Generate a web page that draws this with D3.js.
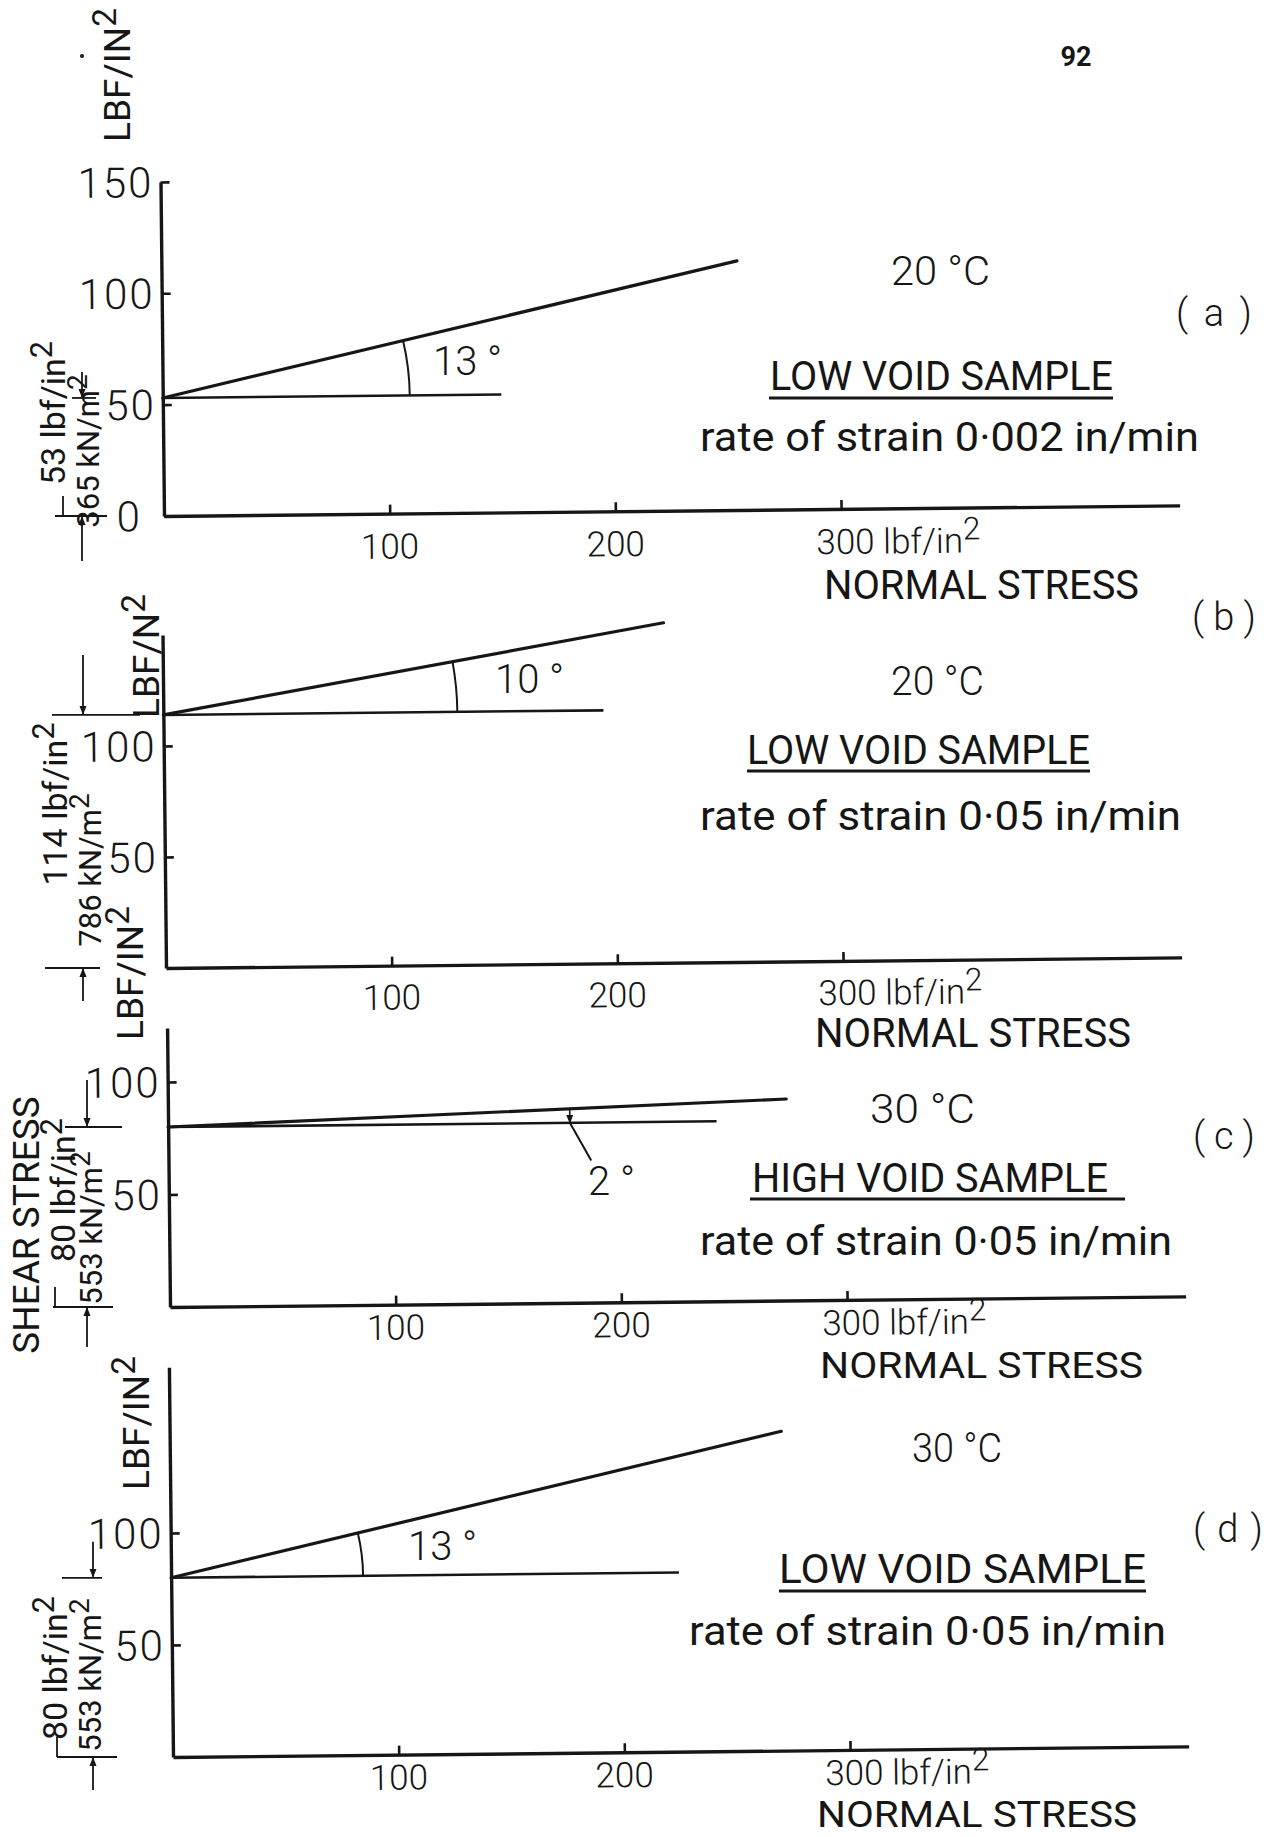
<!DOCTYPE html>
<html>
<head>
<meta charset="utf-8">
<script src="https://cdn.jsdelivr.net/npm/d3@7"></script>
<style>
  html, body { margin: 0; padding: 0; background: #fff; }
  svg text { font-family: Roboto, "DejaVu Sans", sans-serif; font-weight: 400; fill: #161616; }
</style>
</head>
<body>
<svg id="chart" width="1268" height="1837"></svg>
<script>
// Shear stress against normal stress (lbf/in²): straight failure envelopes
// for four shear-box tests, each with its cohesion intercept and friction angle.
const panelIds = ["( a )", "( b )", "( c )", "( d )"];
const temperatures = ["20 °C", "20 °C", "30 °C", "30 °C"];
const samples = ["LOW VOID SAMPLE", "LOW VOID SAMPLE", "HIGH VOID SAMPLE", "LOW  VOID SAMPLE"];
const strainRates = ["0·002", "0·05", "0·05", "0·05"];
const cohesionLbf = [53, 114, 80, 80];          // lbf/in²
const cohesionKN = [365, 786, 553, 553];        // kN/m²
const frictionAngleDeg = [13, 10, 2, 13];
const envelopeEnd = [255, 222, 274, 271];       // normal stress where each envelope stops
const referenceEnd = [150, 195, 243, 225];      // normal stress where the horizontal stops
const xTickValues = [100, 200, 300];
const xTickLabels = ["100", "200", "300"];
const yTickValues = [[0, 50, 100, 150], [50, 100], [50, 100], [50, 100]];
const yTickLabels = [["0", "50", "100", "150"], ["50", "100"], ["50", "100"], ["50", "100"]];
const yAxisTop = [150, 150, 124, 174];
const xAxisEnd = 450;
const unitTexts = ["LBF/IN", "LBF/N", "LBF/IN", "LBF/IN"];
const pageNumber = "92";

// page placement of each panel
const tilt = -0.6;
const xPx = 2.257;
const layout = [
  { x0: 164, y0: 516, yPx: 2.227, arcR: 247, angleLbl: [433, 375], xLblOff: 45,
    temp: [891, 285, 99], id: [1176, 326, 76], sample: [770, 390, 343], ul: [769, 1113, 398],
    rate: [700, 451, 499], normal: [824, 599, 315, 40],
    unit: [117, 75, 37], lblC: [53, 413], lblK: [88, 451],
    dimX: 82, topBar: [72, 96], botBar: [55, 107], topLen: 26, botLen: 45, bar: 63 },
  { x0: 166, y0: 968, yPx: 2.22, arcR: 294, angleLbl: [495, 693], xLblOff: 44,
    temp: [891, 695, 93], id: [1192, 630, 64], sample: [747, 764, 343], ul: [747, 1090, 771],
    rate: [700, 830, 481], normal: [815, 1047, 316, 40],
    unit: [146, 656, 37], lblC: [55, 804], lblK: [90, 870],
    dimX: 83, topBar: [52, 140], botBar: [45, 100], topLen: 60, botLen: 33, bar: null },
  { x0: 170, y0: 1307, yPx: 2.25, arcR: null, angleLbl: [588, 1195], xLblOff: 35,
    temp: [870, 1123, 105], id: [1193, 1149, 62], sample: [752, 1192, 356], ul: [750, 1125, 1199],
    rate: [700, 1255, 472], normal: [820, 1378, 323, 37],
    unit: [130, 973, 37], lblC: [63, 1190], lblK: [91, 1228],
    dimX: 87, topBar: [65, 122], botBar: [53, 113], topLen: 47, botLen: 40, bar: 55 },
  { x0: 173, y0: 1757, yPx: 2.24, arcR: 192, angleLbl: [408, 1560], xLblOff: 35,
    temp: [912, 1462, 90], id: [1193, 1542, 70], sample: [779, 1583, 367], ul: [779, 1146, 1591],
    rate: [689, 1645, 477], normal: [817, 1827, 320, 36],
    unit: [136, 1423, 37], lblC: [55, 1668], lblK: [90, 1675],
    dimX: 93, topBar: [62, 102], botBar: [57, 117], topLen: 36, botLen: 33, bar: 57 }
];

const ink = "#161616";
const svg = d3.select("#chart");

svg.append("defs").append("marker")
  .attr("id", "head").attr("viewBox", "0 0 10 10").attr("refX", 9).attr("refY", 5)
  .attr("markerWidth", 9).attr("markerHeight", 9).attr("markerUnits", "userSpaceOnUse")
  .attr("orient", "auto")
  .append("path").attr("d", "M0,1 L10,5 L0,9 Z").attr("fill", ink);

function withSup(sel, base, sup) {
  sel.append("tspan").text(base);
  sel.append("tspan").attr("dy", "-0.42em").attr("font-size", "0.9em").text(sup);
  return sel;
}

function rotatedLabel(cx, cy, size) {
  return svg.append("text")
    .attr("transform", `translate(${cx},${cy}) rotate(-90)`)
    .attr("text-anchor", "middle").attr("dy", "0.35em")
    .attr("font-size", size);
}

// page number and stray mark at the head of the sheet
svg.append("text").attr("x", 1076).attr("y", 66).attr("text-anchor", "middle")
  .attr("font-size", 27).style("font-weight", 700).text(pageNumber);
svg.append("circle").attr("cx", 82).attr("cy", 56).attr("r", 2).attr("fill", ink);

layout.forEach((L, i) => {
  const x = d3.scaleLinear().domain([0, xAxisEnd]).range([L.x0, L.x0 + xAxisEnd * xPx]);
  const y = d3.scaleLinear().domain([0, yAxisTop[i]]).range([L.y0, L.y0 - yAxisTop[i] * L.yPx]);
  const c = cohesionLbf[i];
  const phi = frictionAngleDeg[i] * Math.PI / 180;

  const g = svg.append("g").attr("transform", `rotate(${tilt},${L.x0},${L.y0})`);

  // axes
  const ax = g.append("g").attr("transform", `translate(0,${L.y0})`)
    .call(d3.axisBottom(x).tickValues(xTickValues).tickSizeInner(-9).tickSizeOuter(0).tickFormat(""));
  const ay = g.append("g").attr("transform", `translate(${L.x0},0)`)
    .call(d3.axisLeft(y).tickValues(yTickValues[i]).tickSizeInner(-9).tickSizeOuter(0).tickFormat(""));
  [ax, ay].forEach(a => {
    a.select(".domain").attr("stroke", ink).attr("stroke-width", 3.4);
    a.selectAll(".tick line").attr("stroke", ink).attr("stroke-width", 2.6);
  });

  // x tick labels
  xTickValues.forEach((v, k) => {
    if (v === 300) {
      const t = g.append("text").attr("x", x(v) - 25).attr("y", L.y0 + L.xLblOff).attr("font-size", 35)
        .style("font-weight", 300);
      withSup(t, xTickLabels[k] + " lbf/in", "2");
    } else {
      g.append("text").attr("x", x(v)).attr("y", L.y0 + L.xLblOff).style("font-weight", 300)
        .attr("text-anchor", "middle").attr("font-size", 35).text(xTickLabels[k]);
    }
  });

  // y tick labels
  yTickValues[i].forEach((v, k) => {
    g.append("text").attr("x", L.x0 - (v === 0 ? 22 : 7)).attr("y", y(v)).attr("dy", "0.36em")
      .attr("text-anchor", "end").attr("font-size", 42).attr("letter-spacing", 2)
      .style("font-weight", 300).text(yTickLabels[i][k]);
  });

  // horizontal through the cohesion intercept
  g.append("line")
    .attr("x1", x(0)).attr("y1", y(c)).attr("x2", x(referenceEnd[i])).attr("y2", y(c))
    .attr("stroke", ink).attr("stroke-width", 2.6);

  // failure envelope: tau = c + sigma * tan(phi)
  const env = [[0, c], [envelopeEnd[i], c + envelopeEnd[i] * Math.tan(phi)]];
  g.append("path")
    .attr("d", d3.line().x(d => x(d[0])).y(d => y(d[1]))(env))
    .attr("fill", "none").attr("stroke", ink).attr("stroke-width", 3.2).attr("stroke-linecap", "round");

  const screenAngle = Math.atan(Math.tan(phi) * L.yPx / xPx);
  if (L.arcR) {
    const p = d3.path();
    p.arc(x(0), y(c), L.arcR, -screenAngle, 0);
    g.append("path").attr("d", p.toString()).attr("fill", "none")
      .attr("stroke", ink).attr("stroke-width", 2);
  } else {
    // small angle: pointer between the two lines and a leader to the label
    const s = 178;
    g.append("line").attr("x1", x(s)).attr("y1", y(c + s * Math.tan(phi)))
      .attr("x2", x(s)).attr("y2", y(c)).attr("stroke", ink).attr("stroke-width", 1.6)
      .attr("marker-end", "url(#head)");
    g.append("line").attr("x1", x(s)).attr("y1", y(c))
      .attr("x2", x(s) + 21).attr("y2", y(c) + 38).attr("stroke", ink).attr("stroke-width", 2);
  }
  svg.append("text").attr("x", L.angleLbl[0]).attr("y", L.angleLbl[1]).attr("font-size", 40)
    .style("font-weight", 300).text(frictionAngleDeg[i] + " °");

  // right-hand captions
  svg.append("text").attr("x", L.temp[0]).attr("y", L.temp[1]).attr("font-size", 41)
    .style("font-weight", 300)
    .attr("textLength", L.temp[2]).attr("lengthAdjust", "spacingAndGlyphs").text(temperatures[i]);
  svg.append("text").attr("x", L.id[0]).attr("y", L.id[1]).attr("font-size", 38)
    .style("font-weight", 300)
    .attr("textLength", L.id[2]).attr("lengthAdjust", "spacing").text(panelIds[i]);
  svg.append("text").attr("x", L.sample[0]).attr("y", L.sample[1]).attr("font-size", 40)
    .attr("textLength", L.sample[2]).attr("lengthAdjust", "spacingAndGlyphs").text(samples[i]);
  svg.append("line").attr("x1", L.ul[0]).attr("x2", L.ul[1]).attr("y1", L.ul[2]).attr("y2", L.ul[2])
    .attr("stroke", ink).attr("stroke-width", 3.2);
  svg.append("text").attr("x", L.rate[0]).attr("y", L.rate[1]).attr("font-size", 40)
    .attr("textLength", L.rate[2]).attr("lengthAdjust", "spacingAndGlyphs")
    .text(`rate of strain ${strainRates[i]} in/min`);
  svg.append("text").attr("x", L.normal[0]).attr("y", L.normal[1]).attr("font-size", L.normal[3])
    .attr("textLength", L.normal[2]).attr("lengthAdjust", "spacingAndGlyphs").text("NORMAL STRESS");

  // vertical unit label of the shear axis
  withSup(rotatedLabel(L.unit[0], L.unit[1], L.unit[2]), unitTexts[i], "2");

  // cohesion given in both unit systems
  withSup(rotatedLabel(L.lblC[0], L.lblC[1], 34), `${c} lbf/in`, "2");
  withSup(rotatedLabel(L.lblK[0], L.lblK[1], 31), `${cohesionKN[i]} kN/m`, "2");

  // dimension marks from the axis up to the intercept
  const yc = y(c), yb = y(0);
  svg.append("line").attr("x1", L.topBar[0]).attr("x2", L.topBar[1]).attr("y1", yc).attr("y2", yc)
    .attr("stroke", ink).attr("stroke-width", 1.8);
  svg.append("line").attr("x1", L.botBar[0]).attr("x2", L.botBar[1]).attr("y1", yb).attr("y2", yb)
    .attr("stroke", ink).attr("stroke-width", 1.8);
  svg.append("line").attr("x1", L.dimX).attr("x2", L.dimX).attr("y1", yc - L.topLen).attr("y2", yc - 1)
    .attr("stroke", ink).attr("stroke-width", 1.8).attr("marker-end", "url(#head)");
  svg.append("line").attr("x1", L.dimX).attr("x2", L.dimX).attr("y1", yb + L.botLen).attr("y2", yb + 1)
    .attr("stroke", ink).attr("stroke-width", 1.8).attr("marker-end", "url(#head)");
  if (L.bar) {
    svg.append("line").attr("x1", L.bar).attr("x2", L.bar).attr("y1", yb - 20).attr("y2", yb)
      .attr("stroke", ink).attr("stroke-width", 1.8);
  }
});

// shared shear-stress title
rotatedLabel(26, 1225, 37).text("SHEAR STRESS");
</script>
</body>
</html>
